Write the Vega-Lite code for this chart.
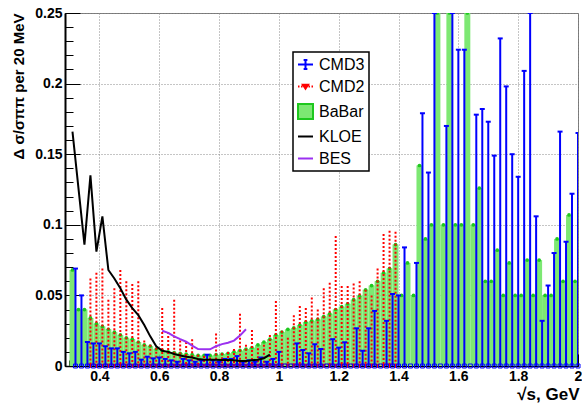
{
  "$schema": "https://vega.github.io/schema/vega-lite/v6.json",
  "width": 513,
  "height": 353,
  "autosize": {"type": "none"},
  "padding": {"left": 65, "top": 13, "right": 4, "bottom": 37},
  "background": "white",
  "config": {
    "font": "Liberation Sans",
    "view": {"stroke": "#777777", "strokeWidth": 1}
  },
  "resolve": {"axis": {"x": "independent", "y": "independent"}},
  "datasets": {
    "cmd3": [
      {"x": 0.32, "v": 0.069}, {"x": 0.34, "v": 0.050}, {"x": 0.36, "v": 0.017}, {"x": 0.38, "v": 0.016},
      {"x": 0.40, "v": 0.016}, {"x": 0.42, "v": 0.014}, {"x": 0.44, "v": 0.0125}, {"x": 0.46, "v": 0.0125},
      {"x": 0.48, "v": 0.010}, {"x": 0.50, "v": 0.009}, {"x": 0.52, "v": 0.010}, {"x": 0.54, "v": 0.0045},
      {"x": 0.56, "v": 0.0066}, {"x": 0.58, "v": 0.0054}, {"x": 0.60, "v": 0.006}, {"x": 0.62, "v": 0.005},
      {"x": 0.64, "v": 0.004}, {"x": 0.66, "v": 0.003}, {"x": 0.68, "v": 0.005}, {"x": 0.70, "v": 0.004},
      {"x": 0.72, "v": 0.003}, {"x": 0.74, "v": 0.004}, {"x": 0.76, "v": 0.008}, {"x": 0.78, "v": 0.004},
      {"x": 0.80, "v": 0.003}, {"x": 0.82, "v": 0.005}, {"x": 0.84, "v": 0.005}, {"x": 0.86, "v": 0.007},
      {"x": 0.88, "v": 0.003}, {"x": 0.90, "v": 0.004}, {"x": 0.92, "v": 0.003}, {"x": 0.94, "v": 0.006},
      {"x": 0.96, "v": 0.003}, {"x": 0.98, "v": 0.005}, {"x": 1.00, "v": 0.010}, {"x": 1.02, "v": 0},
      {"x": 1.04, "v": 0}, {"x": 1.06, "v": 0.016}, {"x": 1.08, "v": 0.0113}, {"x": 1.10, "v": 0.009},
      {"x": 1.12, "v": 0.0154}, {"x": 1.14, "v": 0.012}, {"x": 1.16, "v": 0}, {"x": 1.18, "v": 0.019},
      {"x": 1.20, "v": 0.013}, {"x": 1.22, "v": 0.0168}, {"x": 1.24, "v": 0}, {"x": 1.26, "v": 0.0267},
      {"x": 1.28, "v": 0.0108}, {"x": 1.30, "v": 0.0267}, {"x": 1.32, "v": 0.039}, {"x": 1.34, "v": 0},
      {"x": 1.36, "v": 0.032}, {"x": 1.38, "v": 0.051}, {"x": 1.40, "v": 0.050}, {"x": 1.42, "v": 0.084},
      {"x": 1.44, "v": 0}, {"x": 1.46, "v": 0.073}, {"x": 1.48, "v": 0.179}, {"x": 1.50, "v": 0.137},
      {"x": 1.52, "v": 0.25}, {"x": 1.54, "v": 0}, {"x": 1.56, "v": 0.170}, {"x": 1.58, "v": 0.25},
      {"x": 1.60, "v": 0.224}, {"x": 1.62, "v": 0.224}, {"x": 1.64, "v": 0}, {"x": 1.66, "v": 0.178},
      {"x": 1.68, "v": 0.182}, {"x": 1.70, "v": 0.173}, {"x": 1.72, "v": 0.149}, {"x": 1.74, "v": 0.232},
      {"x": 1.76, "v": 0.198}, {"x": 1.78, "v": 0.150}, {"x": 1.80, "v": 0.134}, {"x": 1.82, "v": 0.209},
      {"x": 1.84, "v": 0.25}, {"x": 1.86, "v": 0.106}, {"x": 1.88, "v": 0.032}, {"x": 1.90, "v": 0.057},
      {"x": 1.92, "v": 0.080}, {"x": 1.94, "v": 0.166}, {"x": 1.96, "v": 0.088}, {"x": 1.98, "v": 0.122},
      {"x": 2.00, "v": 0.165}
    ],
    "cmd2": [
      {"x": 0.37, "v": 0.062}, {"x": 0.39, "v": 0.066}, {"x": 0.41, "v": 0.069}, {"x": 0.43, "v": 0.047},
      {"x": 0.45, "v": 0.055}, {"x": 0.47, "v": 0.068}, {"x": 0.49, "v": 0.060}, {"x": 0.51, "v": 0.058},
      {"x": 0.53, "v": 0.060}, {"x": 0.55, "v": 0.018}, {"x": 0.57, "v": 0.015}, {"x": 0.59, "v": 0.013},
      {"x": 0.61, "v": 0.041}, {"x": 0.63, "v": 0.024}, {"x": 0.65, "v": 0.047}, {"x": 0.67, "v": 0.018},
      {"x": 0.69, "v": 0.017}, {"x": 0.71, "v": 0.019}, {"x": 0.73, "v": 0.008}, {"x": 0.75, "v": 0.007},
      {"x": 0.77, "v": 0.006}, {"x": 0.79, "v": 0.023}, {"x": 0.81, "v": 0.009}, {"x": 0.83, "v": 0.010},
      {"x": 0.85, "v": 0.012}, {"x": 0.87, "v": 0.037}, {"x": 0.89, "v": 0.015}, {"x": 0.91, "v": 0.0255},
      {"x": 0.93, "v": 0.0125}, {"x": 0.95, "v": 0.015}, {"x": 0.97, "v": 0.022}, {"x": 0.99, "v": 0.046},
      {"x": 1.01, "v": 0.025}, {"x": 1.03, "v": 0.020}, {"x": 1.05, "v": 0.036}, {"x": 1.07, "v": 0.0425},
      {"x": 1.09, "v": 0.041}, {"x": 1.11, "v": 0.0486}, {"x": 1.13, "v": 0.040}, {"x": 1.15, "v": 0.055},
      {"x": 1.17, "v": 0.059}, {"x": 1.19, "v": 0.092}, {"x": 1.21, "v": 0.0567}, {"x": 1.23, "v": 0.0567},
      {"x": 1.25, "v": 0.0585}, {"x": 1.27, "v": 0.060}, {"x": 1.29, "v": 0.054}, {"x": 1.31, "v": 0.050},
      {"x": 1.33, "v": 0.069}, {"x": 1.35, "v": 0.0935}, {"x": 1.37, "v": 0.0958}, {"x": 1.39, "v": 0.095}
    ],
    "babar": [
      {"x": 0.31, "lo": 0.30, "hi": 0.32, "v": 0.068}, {"x": 0.33, "lo": 0.32, "hi": 0.34, "v": 0.040},
      {"x": 0.35, "lo": 0.34, "hi": 0.36, "v": 0.040}, {"x": 0.37, "lo": 0.36, "hi": 0.38, "v": 0.034},
      {"x": 0.39, "lo": 0.38, "hi": 0.40, "v": 0.030}, {"x": 0.41, "lo": 0.40, "hi": 0.42, "v": 0.028},
      {"x": 0.43, "lo": 0.42, "hi": 0.44, "v": 0.026}, {"x": 0.45, "lo": 0.44, "hi": 0.46, "v": 0.024},
      {"x": 0.47, "lo": 0.46, "hi": 0.48, "v": 0.022}, {"x": 0.49, "lo": 0.48, "hi": 0.50, "v": 0.020},
      {"x": 0.51, "lo": 0.50, "hi": 0.52, "v": 0.019}, {"x": 0.53, "lo": 0.52, "hi": 0.54, "v": 0.017},
      {"x": 0.55, "lo": 0.54, "hi": 0.56, "v": 0.015}, {"x": 0.57, "lo": 0.56, "hi": 0.58, "v": 0.014},
      {"x": 0.59, "lo": 0.58, "hi": 0.60, "v": 0.012}, {"x": 0.61, "lo": 0.60, "hi": 0.62, "v": 0.011},
      {"x": 0.63, "lo": 0.62, "hi": 0.64, "v": 0.010}, {"x": 0.65, "lo": 0.64, "hi": 0.66, "v": 0.0095},
      {"x": 0.67, "lo": 0.66, "hi": 0.68, "v": 0.009}, {"x": 0.69, "lo": 0.68, "hi": 0.70, "v": 0.0085},
      {"x": 0.71, "lo": 0.70, "hi": 0.72, "v": 0.008}, {"x": 0.73, "lo": 0.72, "hi": 0.74, "v": 0.0075},
      {"x": 0.75, "lo": 0.74, "hi": 0.76, "v": 0.0075}, {"x": 0.77, "lo": 0.76, "hi": 0.78, "v": 0.0075},
      {"x": 0.79, "lo": 0.78, "hi": 0.80, "v": 0.008}, {"x": 0.81, "lo": 0.80, "hi": 0.82, "v": 0.0085},
      {"x": 0.83, "lo": 0.82, "hi": 0.84, "v": 0.009}, {"x": 0.85, "lo": 0.84, "hi": 0.86, "v": 0.010},
      {"x": 0.87, "lo": 0.86, "hi": 0.88, "v": 0.011}, {"x": 0.89, "lo": 0.88, "hi": 0.90, "v": 0.012},
      {"x": 0.91, "lo": 0.90, "hi": 0.92, "v": 0.013}, {"x": 0.93, "lo": 0.92, "hi": 0.94, "v": 0.015},
      {"x": 0.95, "lo": 0.94, "hi": 0.96, "v": 0.017}, {"x": 0.97, "lo": 0.96, "hi": 0.98, "v": 0.019},
      {"x": 0.99, "lo": 0.98, "hi": 1.00, "v": 0.022}, {"x": 1.01, "lo": 1.00, "hi": 1.02, "v": 0.024},
      {"x": 1.03, "lo": 1.02, "hi": 1.04, "v": 0.026}, {"x": 1.05, "lo": 1.04, "hi": 1.06, "v": 0.027},
      {"x": 1.07, "lo": 1.06, "hi": 1.08, "v": 0.029}, {"x": 1.09, "lo": 1.08, "hi": 1.10, "v": 0.031},
      {"x": 1.11, "lo": 1.10, "hi": 1.12, "v": 0.032}, {"x": 1.13, "lo": 1.12, "hi": 1.14, "v": 0.033},
      {"x": 1.15, "lo": 1.14, "hi": 1.16, "v": 0.035}, {"x": 1.17, "lo": 1.16, "hi": 1.18, "v": 0.037},
      {"x": 1.19, "lo": 1.18, "hi": 1.20, "v": 0.040}, {"x": 1.21, "lo": 1.20, "hi": 1.22, "v": 0.042},
      {"x": 1.23, "lo": 1.22, "hi": 1.24, "v": 0.044}, {"x": 1.25, "lo": 1.24, "hi": 1.26, "v": 0.047},
      {"x": 1.27, "lo": 1.26, "hi": 1.28, "v": 0.0496}, {"x": 1.29, "lo": 1.28, "hi": 1.30, "v": 0.054},
      {"x": 1.31, "lo": 1.30, "hi": 1.32, "v": 0.057}, {"x": 1.33, "lo": 1.32, "hi": 1.34, "v": 0.060},
      {"x": 1.35, "lo": 1.34, "hi": 1.36, "v": 0.066}, {"x": 1.37, "lo": 1.36, "hi": 1.38, "v": 0.069},
      {"x": 1.39, "lo": 1.38, "hi": 1.40, "v": 0.086}, {"x": 1.41, "lo": 1.40, "hi": 1.42, "v": 0.050},
      {"x": 1.43, "lo": 1.42, "hi": 1.44, "v": 0.073}, {"x": 1.45, "lo": 1.44, "hi": 1.46, "v": 0.050},
      {"x": 1.47, "lo": 1.46, "hi": 1.48, "v": 0.142}, {"x": 1.49, "lo": 1.48, "hi": 1.50, "v": 0.090},
      {"x": 1.51, "lo": 1.50, "hi": 1.52, "v": 0.100}, {"x": 1.53, "lo": 1.52, "hi": 1.54, "v": 0.25},
      {"x": 1.55, "lo": 1.54, "hi": 1.56, "v": 0.100}, {"x": 1.57, "lo": 1.56, "hi": 1.58, "v": 0.25},
      {"x": 1.59, "lo": 1.58, "hi": 1.60, "v": 0.100}, {"x": 1.61, "lo": 1.60, "hi": 1.62, "v": 0.100},
      {"x": 1.63, "lo": 1.62, "hi": 1.64, "v": 0.25}, {"x": 1.65, "lo": 1.64, "hi": 1.66, "v": 0.100},
      {"x": 1.67, "lo": 1.66, "hi": 1.68, "v": 0.126}, {"x": 1.69, "lo": 1.68, "hi": 1.70, "v": 0.060},
      {"x": 1.71, "lo": 1.70, "hi": 1.72, "v": 0.060}, {"x": 1.73, "lo": 1.72, "hi": 1.74, "v": 0.082},
      {"x": 1.75, "lo": 1.74, "hi": 1.76, "v": 0.050}, {"x": 1.77, "lo": 1.76, "hi": 1.78, "v": 0.073},
      {"x": 1.79, "lo": 1.78, "hi": 1.80, "v": 0.050}, {"x": 1.81, "lo": 1.80, "hi": 1.82, "v": 0.050},
      {"x": 1.83, "lo": 1.82, "hi": 1.84, "v": 0.075}, {"x": 1.85, "lo": 1.84, "hi": 1.86, "v": 0.050},
      {"x": 1.87, "lo": 1.86, "hi": 1.88, "v": 0.075}, {"x": 1.89, "lo": 1.88, "hi": 1.90, "v": 0.050},
      {"x": 1.91, "lo": 1.90, "hi": 1.92, "v": 0.050}, {"x": 1.93, "lo": 1.92, "hi": 1.94, "v": 0.090},
      {"x": 1.95, "lo": 1.94, "hi": 1.96, "v": 0.060}, {"x": 1.97, "lo": 1.96, "hi": 1.98, "v": 0.107},
      {"x": 1.99, "lo": 1.98, "hi": 2.00, "v": 0.060}
    ],
    "kloe": [
      {"x": 0.31, "v": 0.166}, {"x": 0.35, "v": 0.086}, {"x": 0.37, "v": 0.135}, {"x": 0.39, "v": 0.081},
      {"x": 0.41, "v": 0.106}, {"x": 0.43, "v": 0.068}, {"x": 0.45, "v": 0.062}, {"x": 0.47, "v": 0.055},
      {"x": 0.49, "v": 0.047}, {"x": 0.51, "v": 0.041}, {"x": 0.53, "v": 0.036}, {"x": 0.55, "v": 0.029},
      {"x": 0.57, "v": 0.021}, {"x": 0.59, "v": 0.014}, {"x": 0.61, "v": 0.0108}, {"x": 0.63, "v": 0.010},
      {"x": 0.65, "v": 0.0085}, {"x": 0.67, "v": 0.0075}, {"x": 0.69, "v": 0.0065}, {"x": 0.71, "v": 0.006},
      {"x": 0.73, "v": 0.005}, {"x": 0.75, "v": 0.0045}, {"x": 0.77, "v": 0.0045}, {"x": 0.79, "v": 0.0045},
      {"x": 0.81, "v": 0.0042}, {"x": 0.83, "v": 0.0042}, {"x": 0.85, "v": 0.004}, {"x": 0.87, "v": 0.0035},
      {"x": 0.89, "v": 0.0035}, {"x": 0.91, "v": 0.004}, {"x": 0.93, "v": 0.0045}, {"x": 0.95, "v": 0.0055},
      {"x": 0.97, "v": 0.008}
    ],
    "bes": [
      {"x": 0.61, "v": 0.025}, {"x": 0.63, "v": 0.0235}, {"x": 0.65, "v": 0.021}, {"x": 0.67, "v": 0.019},
      {"x": 0.69, "v": 0.0172}, {"x": 0.71, "v": 0.0145}, {"x": 0.73, "v": 0.012}, {"x": 0.75, "v": 0.0118},
      {"x": 0.77, "v": 0.0118}, {"x": 0.79, "v": 0.014}, {"x": 0.81, "v": 0.0155}, {"x": 0.83, "v": 0.0165},
      {"x": 0.85, "v": 0.018}, {"x": 0.87, "v": 0.0215}, {"x": 0.89, "v": 0.026}
    ],
    "keys": [
      {"exp": "CMD3", "x": 3, "v": 0.1}, {"exp": "CMD2", "x": 3, "v": 0.1}, {"exp": "BaBar", "x": 3, "v": 0.1},
      {"exp": "KLOE", "x": 3, "v": 0.1}, {"exp": "BES", "x": 3, "v": 0.1}
    ]
  },
  "layer": [
    {
      "data": {"name": "babar"},
      "mark": {"type": "rect", "color": "#7de873", "clip": true},
      "encoding": {
        "x": {
          "field": "lo", "type": "quantitative",
          "scale": {"domain": [0.285, 2.0], "nice": false, "zero": false},
          "axis": {
            "orient": "bottom",
            "title": "√s, GeV",
            "values": [0.4, 0.6, 0.8, 1.0, 1.2, 1.4, 1.6, 1.8, 2.0],
            "format": "~g",
            "labelOverlap": false,
            "labelFlush": false,
            "labelFont": "Liberation Sans",
            "labelFontSize": 14,
            "labelFontWeight": "bold",
            "labelColor": "black",
            "labelPadding": 15,
            "tickSize": -12,
            "tickColor": "black",
            "tickWidth": 1,
            "domainColor": "black",
            "domainWidth": 1.5,
            "grid": true,
            "gridColor": "#8a8a8a",
            "gridDash": [1, 2],
            "gridWidth": 1,
            "titleFont": "Liberation Sans",
            "titleFontSize": 17,
            "titleFontWeight": "bold",
            "titleColor": "black",
            "titleAnchor": "end",
            "titleAlign": "right",
            "titleBaseline": "alphabetic",
            "titleX": 514,
            "titleY": 33
          }
        },
        "x2": {"field": "hi"},
        "y": {
          "field": "v", "type": "quantitative",
          "scale": {"domain": [0, 0.25], "nice": false},
          "axis": {
            "orient": "left",
            "title": "Δ σ/σππ per 20 MeV",
            "values": [0, 0.05, 0.1, 0.15, 0.2, 0.25],
            "format": "~g",
            "labelOverlap": false,
            "labelFlush": false,
            "labelFont": "Liberation Sans",
            "labelFontSize": 14,
            "labelFontWeight": "bold",
            "labelColor": "black",
            "labelPadding": 18,
            "tickSize": -15,
            "tickColor": "black",
            "tickWidth": 1,
            "domainColor": "black",
            "domainWidth": 2,
            "grid": true,
            "gridColor": "#8a8a8a",
            "gridDash": [1, 2],
            "gridWidth": 1,
            "titleFont": "Liberation Sans",
            "titleFontSize": 15,
            "titleFontWeight": "bold",
            "titleColor": "black",
            "titleAngle": 270,
            "titleAlign": "right",
            "titleBaseline": "middle",
            "titleX": -47,
            "titleY": 0
          }
        },
        "y2": {"datum": 0}
      }
    },
    {
      "data": {"name": "babar"},
      "mark": {"type": "point", "filled": true, "color": "#1ec81e", "size": 14, "opacity": 1, "clip": true},
      "encoding": {
        "x": {
          "field": "x", "type": "quantitative",
          "axis": {
            "orient": "bottom",
            "title": null,
            "values": [0.3, 0.35, 0.4, 0.45, 0.5, 0.55, 0.6, 0.65, 0.7, 0.75, 0.8, 0.85, 0.9, 0.95, 1.0, 1.05, 1.1, 1.15, 1.2, 1.25, 1.3, 1.35, 1.4, 1.45, 1.5, 1.55, 1.6, 1.65, 1.7, 1.75, 1.8, 1.85, 1.9, 1.95, 2.0],
            "labels": false,
            "domain": false,
            "grid": false,
            "tickSize": -6,
            "tickColor": "black",
            "tickWidth": 1
          }
        },
        "y": {
          "field": "v", "type": "quantitative",
          "axis": {
            "orient": "left",
            "title": null,
            "values": [0, 0.01, 0.02, 0.03, 0.04, 0.05, 0.06, 0.07, 0.08, 0.09, 0.1, 0.11, 0.12, 0.13, 0.14, 0.15, 0.16, 0.17, 0.18, 0.19, 0.2, 0.21, 0.22, 0.23, 0.24, 0.25],
            "labels": false,
            "domain": false,
            "grid": false,
            "tickSize": -8,
            "tickColor": "black",
            "tickWidth": 1
          }
        }
      }
    },
    {
      "data": {"name": "cmd2"},
      "mark": {"type": "rule", "color": "#ff0000", "strokeWidth": 2, "strokeDash": [2, 2], "clip": true},
      "encoding": {
        "x": {"field": "x", "type": "quantitative", "axis": null},
        "y": {"field": "v", "type": "quantitative", "axis": null},
        "y2": {"datum": 0}
      }
    },
    {
      "data": {"name": "cmd2"},
      "mark": {"type": "point", "shape": "triangle-down", "filled": true, "color": "#ff0000", "size": 28, "opacity": 1},
      "encoding": {
        "x": {"field": "x", "type": "quantitative", "axis": null},
        "y": {"datum": 0, "axis": null}
      }
    },
    {
      "data": {"name": "cmd3"},
      "transform": [{"filter": "datum.v > 0"}],
      "mark": {"type": "rule", "color": "#0000ff", "strokeWidth": 2, "clip": true},
      "encoding": {
        "x": {"field": "x", "type": "quantitative", "axis": null},
        "y": {"field": "v", "type": "quantitative", "axis": null},
        "y2": {"datum": 0}
      }
    },
    {
      "data": {"name": "cmd3"},
      "transform": [{"filter": "datum.v > 0"}],
      "mark": {"type": "tick", "orient": "horizontal", "color": "#0000ff", "size": 5, "thickness": 2, "opacity": 1, "clip": true},
      "encoding": {
        "x": {"field": "x", "type": "quantitative", "axis": null},
        "y": {"field": "v", "type": "quantitative", "axis": null}
      }
    },
    {
      "data": {"name": "cmd3"},
      "mark": {"type": "point", "shape": "square", "filled": false, "color": "#0000ff", "size": 16, "strokeWidth": 1, "opacity": 1},
      "encoding": {
        "x": {"field": "x", "type": "quantitative", "axis": null},
        "y": {"datum": 0, "axis": null}
      }
    },
    {
      "data": {"name": "kloe"},
      "mark": {"type": "line", "color": "#000000", "strokeWidth": 2, "clip": true},
      "encoding": {
        "x": {"field": "x", "type": "quantitative", "axis": null},
        "y": {"field": "v", "type": "quantitative", "axis": null}
      }
    },
    {
      "data": {"name": "bes"},
      "mark": {"type": "line", "color": "#9b30f0", "strokeWidth": 2, "clip": true},
      "encoding": {
        "x": {"field": "x", "type": "quantitative", "axis": null},
        "y": {"field": "v", "type": "quantitative", "axis": null}
      }
    },
    {
      "data": {"name": "keys"},
      "mark": {"type": "point", "clip": true, "opacity": 1, "strokeWidth": 2},
      "encoding": {
        "x": {"field": "x", "type": "quantitative", "axis": null},
        "y": {"field": "v", "type": "quantitative", "axis": null},
        "fill": {
          "field": "exp", "type": "nominal",
          "scale": {"domain": ["CMD3", "CMD2", "BaBar", "KLOE", "BES"], "range": ["transparent", "#ff0000", "#7de873", "transparent", "transparent"]},
          "legend": {
            "orient": "none",
            "legendX": 228,
            "legendY": 39,
            "title": null,
            "padding": 4,
            "rowPadding": 5,
            "symbolSize": 225,
            "symbolStrokeWidth": 2,
            "symbolOpacity": 1,
            "labelFont": "Liberation Sans",
            "labelFontSize": 16,
            "labelColor": "black",
            "labelOffset": 5,
            "labelExpr": "datum.label + '    '",
            "strokeColor": "black",
            "fillColor": "white",
            "encode": {"legend": {"update": {"strokeWidth": {"value": 1.5}}}}
          }
        },
        "stroke": {
          "field": "exp", "type": "nominal",
          "scale": {"domain": ["CMD3", "CMD2", "BaBar", "KLOE", "BES"], "range": ["#0000ff", "#ff0000", "#1ec81e", "#000000", "#9b30f0"]}
        },
        "shape": {
          "field": "exp", "type": "nominal",
          "scale": {
            "domain": ["CMD3", "CMD2", "BaBar", "KLOE", "BES"],
            "range": [
              "M-1,0H1M0,-0.6V0.6M-0.25,-0.6H0.25M-0.25,0.6H0.25",
              "M-1,0H-0.8M-0.6,0H-0.4M0.4,0H0.6M0.8,0H1M-0.35,-0.25H0.35L0,0.3Z",
              "square",
              "stroke",
              "stroke"
            ]
          }
        }
      }
    }
  ]
}
